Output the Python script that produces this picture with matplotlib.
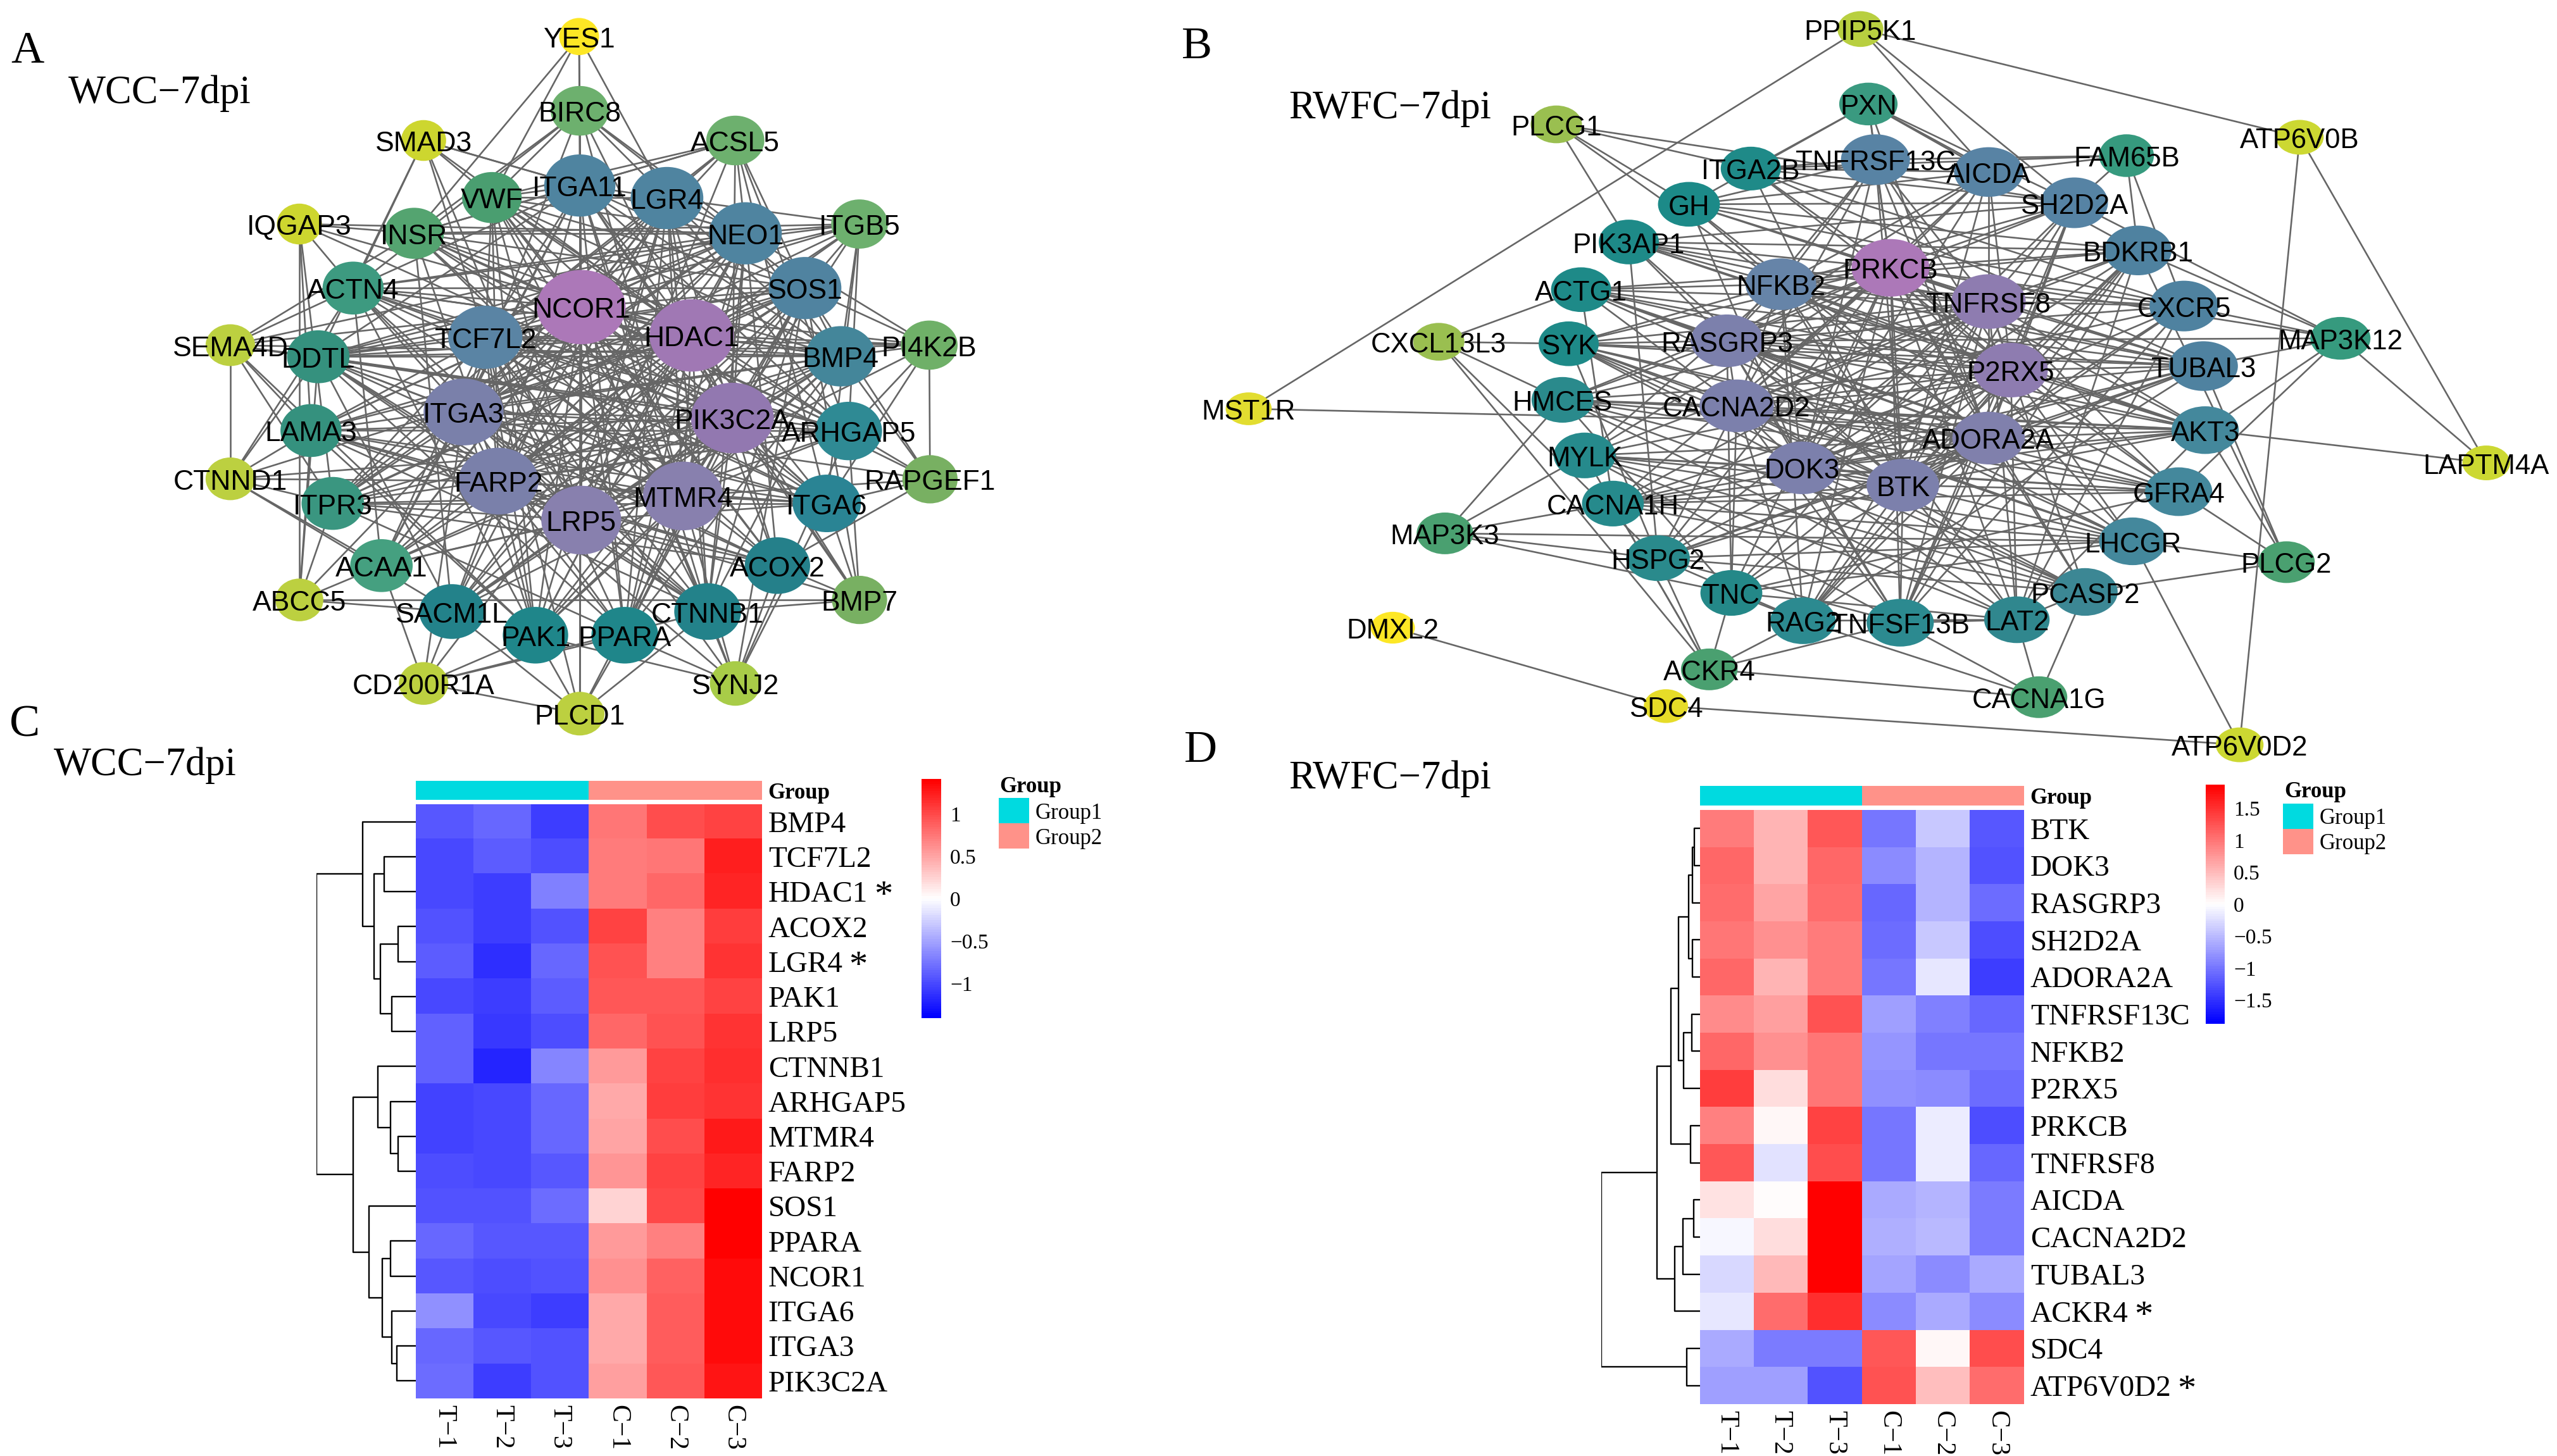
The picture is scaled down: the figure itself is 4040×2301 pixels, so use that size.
import numpy as np
import matplotlib
matplotlib.use("Agg")
import matplotlib.pyplot as plt
from matplotlib.patches import Ellipse
from matplotlib.collections import LineCollection
from matplotlib.colors import LinearSegmentedColormap, ListedColormap, TwoSlopeNorm

W, H = 4041, 2301
plt.rcParams['font.family'] = ['Liberation Sans', 'DejaVu Sans']
SERIF = ['Liberation Serif', 'DejaVu Serif']

# ---------- network A ----------
a_names = ["YES1","BIRC8","SMAD3","ACSL5","ITGA11","LGR4","VWF","ITGB5","IQGAP3","INSR","NEO1","ACTN4","SOS1","NCOR1",
           "TCF7L2","HDAC1","SEMA4D","DDTL","BMP4","PI4K2B","ITGA3","PIK3C2A","LAMA3","ARHGAP5","CTNND1","RAPGEF1",
           "FARP2","MTMR4","ITPR3","ITGA6","LRP5","ACOX2","ACAA1","CTNNB1","SACM1L","ABCC5","BMP7","PAK1","PPARA",
           "CD200R1A","SYNJ2","PLCD1"]
a_x = [797,798,583,1012,798,918,677,1183,412,570,1026,486,1108,800,668,952,317,438,1157,1279,638,1008,428,1168,317,1280,
       686,940,458,1138,800,1070,525,974,622,412,1183,737,860,583,1012,798]
a_y = [76,236,300,300,397,424,423,480,480,500,500,618,618,659,724,720,741,766,765,741,885,898,925,926,1029,1030,
       1034,1066,1082,1082,1118,1216,1216,1315,1315,1290,1290,1366,1366,1470,1470,1535]
a_w = [55,80,62,80,98,100,82,78,62,82,100,84,100,122,102,116,68,86,96,78,110,114,84,92,68,76,
       110,110,86,94,110,90,86,92,90,66,76,90,92,68,70,68]
a_h = [80,107,88,107,134,134,110,106,88,110,134,114,134,160,136,156,90,114,130,106,144,152,114,126,92,104,
       144,148,114,124,148,122,114,122,118,92,104,122,122,92,96,94]
a_col = ["#fde725","#6db06e","#cdd62f","#6db06e","#4f84a0","#4f84a0","#4a9e70","#6db06e","#cdd62f","#54a470","#4f84a0",
         "#3d9a80","#5083a0","#ac78b8","#5a84a4","#a078b4","#bcd040","#35917e","#44869a","#6fb068","#7a80aa","#9278b0",
         "#35917e","#2f8a94","#bcd040","#78b062","#7a80aa","#8880ae","#3a9680","#2a8494","#8880ae","#25808a","#45a080",
         "#23828a","#23828a","#bcd040","#78b062","#1f868a","#1f868a","#bcd040","#a8cc48","#bcd040"]
a_links = {
 "NCOR1":"HDAC1 PIK3C2A MTMR4 LRP5 FARP2 ITGA3 TCF7L2 BMP4 SOS1 NEO1 LGR4 ITGA11 VWF INSR ACTN4 DDTL LAMA3 ITPR3 ACAA1 SACM1L PAK1 PPARA CTNNB1 ACOX2 ITGA6 ARHGAP5 ITGB5 ACSL5 BIRC8 PI4K2B SEMA4D RAPGEF1 ABCC5 PLCD1 SYNJ2",
 "HDAC1":"PIK3C2A MTMR4 LRP5 FARP2 ITGA3 TCF7L2 BMP4 SOS1 NEO1 LGR4 ITGA11 VWF INSR ACTN4 DDTL LAMA3 ITPR3 ACAA1 SACM1L PAK1 PPARA CTNNB1 ACOX2 ITGA6 ARHGAP5 PI4K2B BIRC8 ITGB5 SMAD3 IQGAP3 CTNND1 BMP7 CD200R1A",
 "PIK3C2A":"MTMR4 LRP5 FARP2 ITGA3 TCF7L2 BMP4 SOS1 NEO1 LGR4 ITGA11 INSR ACTN4 DDTL LAMA3 ITPR3 ACAA1 SACM1L PAK1 PPARA CTNNB1 ACOX2 ITGA6 ITGB5 ACSL5 SEMA4D IQGAP3 BMP7 PLCD1",
 "MTMR4":"LRP5 FARP2 ITGA3 TCF7L2 BMP4 SOS1 NEO1 LGR4 ITGA11 VWF INSR ACTN4 DDTL LAMA3 ITPR3 ACAA1 SACM1L PAK1 PPARA ARHGAP5 ITGA6 RAPGEF1 BIRC8 SYNJ2",
 "LRP5":"FARP2 ITGA3 TCF7L2 BMP4 SOS1 NEO1 LGR4 ITGA11 VWF ACTN4 DDTL LAMA3 ITPR3 ACAA1 SACM1L CTNNB1 ACOX2 ARHGAP5 ITGA6 PI4K2B BMP7 SMAD3 ACSL5",
 "FARP2":"ITGA3 TCF7L2 BMP4 SOS1 NEO1 LGR4 ITGA11 VWF INSR DDTL LAMA3 SACM1L PAK1 PPARA CTNNB1 ACOX2 ARHGAP5 ITGA6 ITGB5 CTNND1 SYNJ2",
 "ITGA3":"TCF7L2 BMP4 SOS1 NEO1 LGR4 ITGA11 ACTN4 DDTL ITPR3 ACAA1 PAK1 PPARA CTNNB1 ACOX2 ARHGAP5 ITGA6 ITGB5 BIRC8 RAPGEF1 CD200R1A",
 "TCF7L2":"BMP4 SOS1 NEO1 LGR4 ITGA11 VWF ACTN4 DDTL LAMA3 ITPR3 ACAA1 PAK1 PPARA CTNNB1 ACOX2 ARHGAP5 ITGA6 PI4K2B SMAD3 ACSL5 SYNJ2 PLCD1",
 "BMP4":"SOS1 NEO1 LGR4 ITGA11 VWF INSR ACTN4 DDTL LAMA3 ITPR3 ACAA1 SACM1L PAK1 PPARA CTNNB1 PI4K2B ITGB5 RAPGEF1 SEMA4D",
 "YES1":"BIRC8 LGR4 ITGA11 VWF INSR",
 "SMAD3":"ITGA11 ACTN4 VWF DDTL NEO1",
 "BIRC8":"ITGA11 LGR4 VWF INSR NEO1 SOS1 ACTN4",
 "ACSL5":"LGR4 ITGA11 NEO1 SOS1 INSR VWF ITGA6 ARHGAP5",
 "ITGB5":"LGR4 NEO1 SOS1 INSR DDTL ARHGAP5 ITGA6 ACTN4",
 "IQGAP3":"INSR ABCC5 ACTN4 ITPR3 NEO1 LAMA3",
 "SEMA4D":"DDTL LAMA3 ITPR3 ACTN4 CTNND1 INSR NEO1 PAK1",
 "CTNND1":"LAMA3 ITPR3 DDTL ACAA1 ACTN4 SACM1L ARHGAP5",
 "ABCC5":"BMP7 ITPR3 ACAA1 LAMA3 DDTL SACM1L",
 "BMP7":"ITGA6 ARHGAP5 ACOX2 CTNNB1 SOS1 ITGA11",
 "RAPGEF1":"PI4K2B ITGA6 ARHGAP5 ACOX2 SOS1",
 "PI4K2B":"DDTL ARHGAP5 ITGA6 SOS1 NEO1",
 "CD200R1A":"PLCD1 SACM1L PAK1 PPARA CTNNB1 ACAA1",
 "SYNJ2":"CTNNB1 ACOX2 PPARA ITGA6 ARHGAP5 PAK1 SOS1",
 "PLCD1":"PAK1 PPARA SACM1L CTNNB1 ITGA11",
 "ITGA11":"NEO1 INSR LGR4 VWF ACTN4 SOS1 DDTL ARHGAP5 ACAA1 PPARA CTNNB1",
 "INSR":"NEO1 SOS1 ARHGAP5 ITGA6 ACOX2 SACM1L",
 "ACTN4":"NEO1 SOS1 ARHGAP5 ITGA6 CTNNB1 ACAA1 PAK1",
 "DDTL":"ARHGAP5 ITGA6 SOS1 ACOX2 PPARA CTNNB1 SACM1L",
 "LAMA3":"ARHGAP5 SOS1 ITGA6 ACOX2 PAK1 CTNNB1",
 "ITPR3":"NEO1 SOS1 ITGA6 ARHGAP5 ACOX2 LGR4 PPARA",
 "LGR4":"ACAA1 SACM1L PAK1 PPARA NEO1 VWF CTNNB1 ARHGAP5",
 "NEO1":"SACM1L PAK1 PPARA DDTL LAMA3 ACAA1 CTNNB1 ACOX2",
 "VWF":"SOS1 NEO1 ARHGAP5 ACOX2 CTNNB1 ITGA6 PAK1",
 "SOS1":"ACAA1 SACM1L PAK1 PPARA CTNNB1",
}

# ---------- network B ----------
b_names = ["PPIP5K1","PXN","PLCG1","ATP6V0B","FAM65B","ITGA2B","TNFRSF13C","AICDA","GH","SH2D2A","PIK3AP1","BDKRB1","PRKCB",
           "NFKB2","ACTG1","CXCR5","TNFRSF8","CXCL13L3","SYK","RASGRP3","MAP3K12","TUBAL3","P2RX5","HMCES","CACNA2D2","MST1R",
           "AKT3","ADORA2A","MYLK","DOK3","LAPTM4A","BTK","GFRA4","CACNA1H","MAP3K3","LHCGR","HSPG2","PLCG2","PCASP2","TNC",
           "RAG2","TNFSF13B","LAT2","DMXL2","ACKR4","CACNA1G","SDC4","ATP6V0D2"]
b_x = [780,789,436,1277,1081,656,797,925,586,1022,518,1094,814,690,464,1146,925,303,450,629,1323,1168,950,443,640,88,
       1170,925,468,714,1488,828,1140,500,310,1088,551,1262,1034,634,715,825,957,251,609,982,560,1209]
b_y = [56,207,248,274,311,337,319,344,409,406,485,502,537,570,581,614,605,686,690,684,679,735,743,803,815,821,
       864,880,915,940,930,975,988,1012,1072,1088,1122,1130,1190,1192,1248,1252,1246,1262,1346,1402,1420,1498]
b_w = [52,66,58,54,62,68,78,78,70,76,68,76,88,80,68,78,84,58,68,82,68,78,84,70,84,52,
       76,82,70,82,54,82,76,70,64,76,72,64,74,70,74,76,74,50,64,64,50,54]
b_h = [72,86,76,70,86,88,102,100,90,102,90,100,116,104,90,102,110,76,90,106,86,100,110,92,106,66,
       96,106,92,106,70,106,98,92,84,96,92,84,96,92,94,96,94,64,84,84,68,70]
b_col = ["#b8cf40","#3a9a80","#9abf50","#ccd832","#369a7e","#1f8a88","#5883a4","#5883a4","#1c8a88","#5683a4","#1e8a88",
         "#4f82a0","#ac78b8","#6684a8","#1e8a88","#4f82a0","#8e7cb0","#9abf50","#1e8a88","#7c80ac","#369a7e","#4f82a0",
         "#8e7cb0","#2a8a8c","#7c80ac","#e2dd30","#44889c","#8080ac","#268a8c","#7c80ac","#ccd832","#7c80ac","#44889c",
         "#268a8c","#4aa070","#44889c","#2a8a8c","#4aa070","#3c8794","#248888","#2c8a90","#2c8a90","#30878e","#fde725",
         "#4aa070","#4aa070","#e6dc28","#ccd832"]
b_links = {
 "PRKCB":"TNFRSF8 P2RX5 ADORA2A BTK DOK3 CACNA2D2 RASGRP3 NFKB2 TNFRSF13C AICDA SH2D2A BDKRB1 CXCR5 TUBAL3 AKT3 GFRA4 LHCGR PCASP2 LAT2 TNFSF13B RAG2 TNC HSPG2 CACNA1H MYLK HMCES SYK ACTG1 PIK3AP1 GH ITGA2B PXN MAP3K12",
 "TNFRSF8":"P2RX5 ADORA2A BTK DOK3 CACNA2D2 RASGRP3 NFKB2 TNFRSF13C AICDA SH2D2A BDKRB1 CXCR5 TUBAL3 AKT3 GFRA4 PCASP2 LAT2 TNFSF13B RAG2 TNC HSPG2 CACNA1H MYLK HMCES SYK ACTG1 PIK3AP1 GH",
 "P2RX5":"ADORA2A BTK DOK3 CACNA2D2 RASGRP3 NFKB2 TNFRSF13C AICDA SH2D2A BDKRB1 TUBAL3 AKT3 GFRA4 LHCGR LAT2 TNFSF13B RAG2 TNC HSPG2 CACNA1H MYLK HMCES SYK ACTG1 PIK3AP1 ITGA2B",
 "ADORA2A":"BTK DOK3 CACNA2D2 RASGRP3 NFKB2 TNFRSF13C SH2D2A BDKRB1 CXCR5 TUBAL3 AKT3 LHCGR PCASP2 TNFSF13B RAG2 TNC HSPG2 CACNA1H MYLK HMCES SYK ACTG1 GH PXN",
 "BTK":"DOK3 CACNA2D2 RASGRP3 NFKB2 TNFRSF13C AICDA SH2D2A BDKRB1 CXCR5 TUBAL3 AKT3 GFRA4 LHCGR TNFSF13B RAG2 LAT2 HSPG2 CACNA1H MYLK HMCES SYK PIK3AP1 ITGA2B",
 "DOK3":"CACNA2D2 RASGRP3 NFKB2 TNFRSF13C AICDA SH2D2A BDKRB1 CXCR5 TUBAL3 AKT3 GFRA4 TNFSF13B LAT2 PCASP2 MYLK SYK GH",
 "CACNA2D2":"RASGRP3 NFKB2 TNFRSF13C AICDA BDKRB1 CXCR5 TUBAL3 AKT3 GFRA4 LHCGR PCASP2 TNFSF13B RAG2 TNC HSPG2 ACTG1 SYK HMCES",
 "RASGRP3":"NFKB2 TNFRSF13C AICDA SH2D2A CXCR5 TUBAL3 AKT3 GFRA4 LHCGR TNFSF13B TNC MAP3K12 ACTG1 PIK3AP1 SYK HMCES",
 "NFKB2":"TNFRSF13C AICDA SH2D2A BDKRB1 CXCR5 TUBAL3 AKT3 GFRA4 LAT2 RAG2 MYLK ACTG1 PIK3AP1 SYK",
 "PPIP5K1":"MST1R ATP6V0B AICDA SH2D2A",
 "ATP6V0B":"LAPTM4A ATP6V0D2",
 "MST1R":"AKT3",
 "LAPTM4A":"AKT3 MAP3K12",
 "PLCG1":"ITGA2B GH PIK3AP1 NFKB2 SH2D2A",
 "CXCL13L3":"ACTG1 SYK HMCES ACKR4 HSPG2",
 "MAP3K3":"HMCES CACNA1H MYLK HSPG2 LHCGR TNC",
 "DMXL2":"SDC4",
 "SDC4":"ATP6V0D2",
 "ACKR4":"CACNA1G HSPG2 TNC RAG2 MYLK CACNA1H TNFSF13B",
 "CACNA1G":"TNFSF13B RAG2 LAT2 PCASP2",
 "ATP6V0D2":"LHCGR",
 "PLCG2":"PCASP2 GFRA4 AKT3 TUBAL3 LHCGR BDKRB1",
 "MAP3K12":"TUBAL3 AKT3 GFRA4 BDKRB1 SH2D2A CXCR5",
 "FAM65B":"AICDA SH2D2A BDKRB1 CXCR5 TNFRSF13C ITGA2B",
 "PXN":"TNFRSF13C AICDA SH2D2A GH ITGA2B BDKRB1",
 "GH":"TNFRSF13C AICDA SH2D2A BDKRB1 CXCR5 NFKB2",
 "ITGA2B":"TNFRSF13C AICDA SH2D2A CXCR5 TUBAL3",
 "PIK3AP1":"SH2D2A BDKRB1 TUBAL3 AKT3 HSPG2",
 "ACTG1":"TUBAL3 AKT3 GFRA4 LHCGR CACNA1H",
 "SYK":"TUBAL3 LHCGR GFRA4 PCASP2 HSPG2",
 "HMCES":"AKT3 GFRA4 PCASP2 LAT2 TNC",
 "MYLK":"LHCGR PCASP2 LAT2 GFRA4 TNFSF13B",
 "CACNA1H":"GFRA4 LHCGR PCASP2 TUBAL3 AKT3",
 "HSPG2":"PCASP2 TNFSF13B RAG2 LHCGR TUBAL3",
 "TNC":"LAT2 LHCGR GFRA4 RAG2",
 "RAG2":"LAT2 TUBAL3 BDKRB1",
 "TNFSF13B":"LAT2 CXCR5 BDKRB1 SH2D2A",
 "LAT2":"PCASP2 CXCR5 BDKRB1 AKT3",
}

# ---------- heatmap C ----------
c_genes = ["BMP4","TCF7L2","HDAC1","ACOX2","LGR4","PAK1","LRP5","CTNNB1","ARHGAP5","MTMR4","FARP2","SOS1","PPARA",
           "NCOR1","ITGA6","ITGA3","PIK3C2A"]
c_marked = ["HDAC1","LGR4"]
sample_labels = ["T\u22121","T\u22122","T\u22123","C\u22121","C\u22122","C\u22123"]
c_t1 = [-0.92,-1.0,-1.0,-0.95,-0.90,-1.0,-0.85,-0.85,-1.03,-1.02,-0.98,-0.95,-0.82,-0.93,-0.6,-0.83,-0.8]
c_t2 = [-0.83,-0.88,-1.06,-1.05,-1.13,-1.05,-1.08,-1.2,-1.0,-1.0,-1.0,-0.95,-0.93,-0.98,-1.0,-0.92,-1.07]
c_t3 = [-1.07,-0.98,-0.70,-0.95,-0.83,-0.90,-0.98,-0.67,-0.83,-0.83,-0.92,-0.80,-0.93,-0.95,-1.05,-0.95,-0.95]
c_c1 = [0.75,0.72,0.73,1.02,0.95,0.92,0.82,0.55,0.46,0.48,0.58,0.25,0.55,0.62,0.46,0.46,0.52]
c_c2 = [0.98,0.76,0.82,0.70,0.70,0.92,0.95,1.03,1.07,0.98,1.03,1.0,0.7,0.85,0.88,0.88,0.92]
c_c3 = [1.02,1.24,1.21,1.07,1.1,1.03,1.1,1.15,1.12,1.25,1.2,1.41,1.41,1.34,1.33,1.35,1.28]
c_range = 1.41
c_ticks = [-1,-0.5,0,0.5,1]
# dendrogram merges: (member rows a, member rows b, distance from the heatmap)
c_merges = [((1,),(2,),60),((3,),(4,),34),((5,),(6,),46),((3,4),(5,6),68),((1,2),(3,4,5,6),80),((0,),(1,2,3,4,5,6),102),
            ((9,),(10,),34),((8,),(9,10),48),((7,),(8,9,10),73),((12,),(13,),48),((15,),(16,),36),((14,),(15,16),46),
            ((12,13),(14,15,16),64),((11,),(12,13,14,15,16),90),((7,8,9,10),(11,12,13,14,15,16),120),
            ((0,1,2,3,4,5,6),(7,8,9,10,11,12,13,14,15,16),190)]

# ---------- heatmap D ----------
d_genes = ["BTK","DOK3","RASGRP3","SH2D2A","ADORA2A","TNFRSF13C","NFKB2","P2RX5","PRKCB","TNFRSF8","AICDA","CACNA2D2",
           "TUBAL3","ACKR4","SDC4","ATP6V0D2"]
d_marked = ["ACKR4","ATP6V0D2"]
d_t1 = [0.95,1.1,1.08,1.0,1.1,0.85,1.1,1.4,0.9,1.2,0.2,-0.06,-0.28,-0.15,-0.6,-0.7]
d_t2 = [0.55,0.55,0.65,0.8,0.55,0.7,0.8,0.25,0.07,-0.22,0.02,0.23,0.5,1.05,-0.95,-0.7]
d_t3 = [1.2,1.1,1.05,0.95,0.95,1.25,1.0,1.0,1.35,1.3,1.87,1.87,1.87,1.5,-0.95,-1.25]
d_c1 = [-1.0,-0.85,-1.1,-1.05,-1.0,-0.7,-0.75,-0.8,-1.0,-0.98,-0.6,-0.58,-0.65,-0.85,1.2,1.25]
d_c2 = [-0.4,-0.55,-0.55,-0.38,-0.15,-0.9,-1.0,-0.85,-0.12,-0.12,-0.55,-0.5,-0.85,-0.6,0.05,0.45]
d_c3 = [-1.2,-1.25,-1.05,-1.3,-1.4,-1.1,-1.0,-1.05,-1.3,-1.1,-0.95,-0.95,-0.6,-0.85,1.3,1.05]
d_range = 1.87
d_ticks = [-1.5,-1,-0.5,0,0.5,1,1.5]
d_merges = [((0,),(1,),11),((0,1),(2,),15),((3,),(4,),14),((0,1,2),(3,4),22),((5,),(6,),16),((5,6),(7,),31),
            ((0,1,2,3,4),(5,6,7),41),((8,),(9,),18),((0,1,2,3,4,5,6,7),(8,9),56),((10,),(11,),12),((10,11),(12,),33),
            ((10,11,12),(13,),49),((0,1,2,3,4,5,6,7,8,9),(10,11,12,13),82),((14,),(15,),25),
            ((0,1,2,3,4,5,6,7,8,9,10,11,12,13),(14,15),189)]

groups = ["Group1","Group2"]
group_colors = ["#00DAE0","#FF9289"]

fig = plt.figure(figsize=(W/100, H/100), dpi=100, facecolor='white')
cmap = LinearSegmentedColormap.from_list("bwr2", ["#0000ff", "#ffffff", "#ff0000"], N=100)


def px_axes(x0, y0, x1, y1, **kw):
    return fig.add_axes([x0/W, 1-y1/H, (x1-x0)/W, (y1-y0)/H], **kw)


def draw_network(box, names, xs, ys, ws, hs, cols, links, fs):
    ax = px_axes(*box, zorder=1)
    ax.set_xlim(0, 1568)
    ax.set_ylim(1568, 0)
    ax.axis('off')
    ax.patch.set_alpha(0)
    idx = {n: i for i, n in enumerate(names)}
    seen = set()
    segs = []
    for a, targets in links.items():
        for b in targets.split():
            key = tuple(sorted((a, b)))
            if key in seen:
                continue
            seen.add(key)
            segs.append([(xs[idx[a]], ys[idx[a]]), (xs[idx[b]], ys[idx[b]])])
    lc = LineCollection(segs, colors='#666666', linewidths=1.9, zorder=1, clip_on=False)
    ax.add_collection(lc)
    for n, x, y, w, h, c in zip(names, xs, ys, ws, hs, cols):
        ax.add_patch(Ellipse((x, y), w, h, facecolor=c, edgecolor='none', zorder=2, clip_on=False))
        ax.annotate(n, (x, y), xytext=(0, -4), textcoords='offset points', ha='center', va='center',
                    fontsize=fs, color='black', zorder=3, annotation_clip=False)


def draw_heat(hbox, abox, dbox, genes, marked, cols, vr, merges, dmax, cbox, ticks, lx, ly, sw):
    data = np.array(cols).T
    nrow, ncol = data.shape
    norm = TwoSlopeNorm(vmin=-vr, vcenter=0, vmax=vr)
    ax = px_axes(*hbox, zorder=2)
    im = ax.imshow(data, cmap=cmap, norm=norm, aspect='auto', interpolation='nearest')
    ax.yaxis.tick_right()
    ax.set_yticks(range(nrow), genes, fontsize=34, family=SERIF)
    ax.set_xticks(range(ncol), sample_labels, fontsize=30, family=SERIF, rotation=270)
    ax.tick_params(length=0, pad=7)
    for s in ax.spines.values():
        s.set_visible(False)
    for lab, row in zip(ax.get_yticklabels(), range(nrow)):
        if lab.get_text() in marked:
            ax.annotate("*", xy=(1, row), xycoords=(lab, ax.transData), xytext=(7, -16),
                        textcoords='offset points', fontsize=42, family=SERIF, ha='left', va='baseline',
                        annotation_clip=False)
    # annotation bar
    an = px_axes(*abox, zorder=2)
    an.imshow([[0, 0, 0, 1, 1, 1]], cmap=ListedColormap(group_colors), aspect='auto', interpolation='nearest')
    an.set_xticks([])
    an.yaxis.tick_right()
    an.set_yticks([0], ["Group"], fontsize=25, family=SERIF, fontweight='bold')
    an.tick_params(length=0, pad=7)
    for s in an.spines.values():
        s.set_visible(False)
    # dendrogram
    dn = px_axes(*dbox, zorder=2)
    dn.set_xlim(dmax, 0)
    dn.set_ylim(nrow-0.5, -0.5)
    dn.axis('off')
    pos = {(i,): (float(i), 0.0) for i in range(nrow)}
    segs = []
    for a, b, d in merges:
        ya, ha = pos[a]
        yb, hb = pos[b]
        segs.append([(ha, ya), (d, ya), (d, yb), (hb, yb)])
        pos[tuple(sorted(a+b))] = ((ya+yb)/2, d)
    dn.add_collection(LineCollection(segs, colors='black', linewidths=1.7))
    # colour bar
    cax = px_axes(*cbox, zorder=2)
    cb = fig.colorbar(im, cax=cax, ticks=ticks)
    cb.outline.set_visible(False)
    cb.ax.tick_params(length=0, pad=10, labelsize=24)
    cb.ax.set_yticklabels([f"{t:g}".replace('-', '\u2212') for t in ticks], family=SERIF)
    # legend
    sx0, sx1, sy0, sy1 = sw
    lg = px_axes(sx0, sy0, sx1, sy1, zorder=2)
    lg.imshow([[0], [1]], cmap=ListedColormap(group_colors), aspect='auto', interpolation='nearest')
    lg.set_xticks([])
    lg.yaxis.tick_right()
    lg.set_yticks([0, 1], groups, fontsize=25, family=SERIF)
    lg.tick_params(length=0, pad=7)
    for s in lg.spines.values():
        s.set_visible(False)
    fig.text(lx/W, 1-ly/H, "Group", fontsize=25, family=SERIF, fontweight='bold', ha='left', va='center')


draw_network((0, 2, 1800, 1152), a_names, a_x, a_y, a_w, a_h, a_col, a_links, 32)
draw_network((1850, 2, 4040, 1232), b_names, b_x, b_y, b_w, b_h, b_col, b_links, 31.5)

draw_heat((657, 1271, 1204, 2210), (657, 1234, 1204, 1264), (500, 1271, 657, 2210),
          c_genes, c_marked, [c_t1, c_t2, c_t3, c_c1, c_c2, c_c3], c_range, c_merges, 190,
          (1456, 1231, 1487, 1609), c_ticks, 1579, 1243, (1578, 1626, 1261, 1341))
draw_heat((2686, 1280, 3198, 2219), (2686, 1242, 3198, 1273), (2530, 1280, 2686, 2219),
          d_genes, d_marked, [d_t1, d_t2, d_t3, d_c1, d_c2, d_c3], d_range, d_merges, 189,
          (3485, 1240, 3515, 1618), d_ticks, 3609, 1251, (3607, 3655, 1270, 1350))

for s, x, y in [("A", 17, 99), ("B", 1867, 92), ("C", 15, 1163), ("D", 1871, 1204)]:
    fig.text(x/W, 1-y/H, s, fontsize=52, family=SERIF, ha='left', va='baseline')
for s, x, y in [("WCC\u22127dpi", 108, 148), ("RWFC\u22127dpi", 2036, 172),
                ("WCC\u22127dpi", 85, 1210), ("RWFC\u22127dpi", 2036, 1231)]:
    fig.text(x/W, 1-y/H, s, fontsize=45, family=SERIF, ha='left', va='center')

fig.savefig("out.png", dpi=100)
